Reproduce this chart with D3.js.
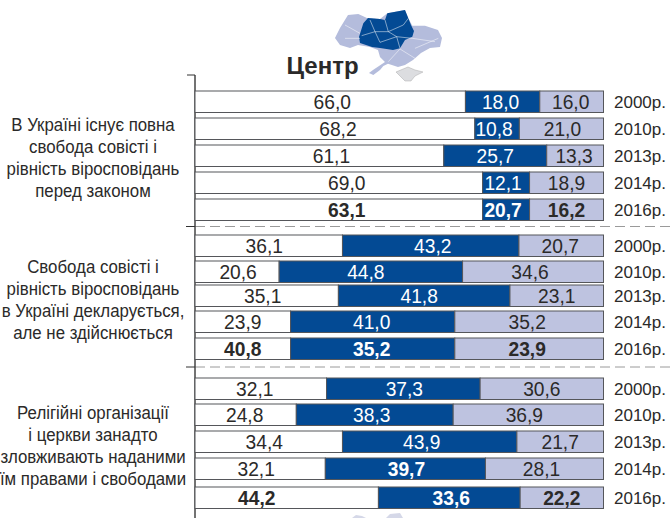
<!DOCTYPE html>
<html lang="uk"><head><meta charset="utf-8">
<script src="https://cdn.jsdelivr.net/npm/d3@7/dist/d3.min.js"></script>
<style>html,body{margin:0;padding:0;background:#fff}svg{display:block}</style></head>
<body><svg id="c" width="671" height="518"></svg>
<script>
const years = ["2000р.","2010р.","2013р.","2014р.","2016р."];
const questions = [
 ["В Україні існує повна","свобода совісті і","рівність віросповідань","перед законом"],
 ["Свобода совісті і","рівність віросповідань","в Україні декларується,","але не здійснюється"],
 ["Релігійні організації","і церкви занадто","зловживають наданими","їм правами і свободами"]
];
const labelsQ1 = [["66,0","18,0","16,0"],["68,2","10,8","21,0"],["61,1","25,7","13,3"],["69,0","12,1","18,9"],["63,1","20,7","16,2"]];
const labelsQ2 = [["36,1","43,2","20,7"],["20,6","44,8","34,6"],["35,1","41,8","23,1"],["23,9","41,0","35,2"],["40,8","35,2","23,9"]];
const labelsQ3 = [["32,1","37,3","30,6"],["24,8","38,3","36,9"],["34,4","43,9","21,7"],["32,1","39,7","28,1"],["44,2","33,6","22,2"]];
// Drawn bar lengths (they differ from the printed labels in some rows)
const drawnQ1 = [[66.2,18.2,15.6],[68.5,10.9,20.6],[60.9,25.2,13.9],[70.4,11.5,18.1],[70.4,11.5,18.1]];
const drawnQ2 = [[36.1,43.2,20.7],[20.6,44.9,34.5],[35.1,42.0,22.9],[23.4,40.2,36.4],[23.4,40.2,36.4]];
const drawnQ3 = [[32.2,37.6,30.2],[24.8,38.4,36.8],[36.1,42.7,21.2],[31.9,39.2,28.9],[44.9,34.7,20.4]];
const boldCells = [[[4,0],[4,1],[4,2]],[[4,0],[4,1],[4,2]],[[3,1],[4,0],[4,1],[4,2]]];
const segmentFill = ["#ffffff","#034a94","#bec3e0"];
const segmentText = ["#2b2a29","#ffffff","#2b2a29"];

const svg = d3.select("#c");
const x = d3.scaleLinear().domain([0,100]).range([195,603.5]);
const rowTops = [[91,118,145,172,199],[235,261,285,311,338],[378,404,431,458,487]];
const rowH = 21.5;
const qBase = [130.5,273,419];
// horizontal label offsets from the segment centre, in px
const labelShift = [
 [[2,-2,-1],[3,-3,1],[12,0,-1],[8,-3,0],[8,-3,0]],
 [[-4.5,2,-1],[1,-5,-3],[-4,-5,0],[0,-1,-2],[0,-1,-2]],
 [[-6,1,0],[-1,-3,-4],[-4.5,-8,0],[-4,1,-3],[-30,2,0]]
];

// map (decorative)
const mapG = svg.append("g").attr("transform","translate(325,5) scale(0.3333)");
const line = d3.line().curve(d3.curveLinearClosed);
const outline = [[30,99],[45,69],[69,30],[100,27],[126,39],[165,42],[187,25],[240,15],[250,40],[262,62],[300,62],[339,75],[351,99],[345,126],[315,129],[288,144],[264,165],[240,180],[219,186],[189,176],[175,183],[165,195],[145,210],[132,204],[144,195],[180,171],[165,156],[159,135],[135,126],[99,120],[75,129],[45,120]];
const center = [[102,96],[115,55],[129,39],[165,42],[180,45],[187,25],[240,15],[250,40],[258,60],[267,78],[262,95],[240,105],[225,130],[204,135],[165,129],[141,126],[105,114]];
const crimea = [[213,201],[249,186],[270,195],[294,201],[270,213],[258,228],[240,228],[225,213]];
mapG.append("path").attr("d",line(outline)).attr("fill","#b4bcdc");
mapG.append("path").attr("d",line(crimea)).attr("fill","#dcdde0").attr("stroke","#aaa").attr("stroke-width",1.5);
mapG.append("path").attr("d",line(center)).attr("fill","#034a94");
const borders = [[[135,45],[150,80],[110,92]],[[150,80],[165,112]],[[180,45],[190,80],[150,80]],[[190,80],[215,95],[225,130]],[[215,95],[262,100]],[[190,80],[235,60],[250,40]],[[165,112],[215,95]],[[60,60],[105,85]],[[60,100],[105,100]],[[262,100],[330,110]],[[270,130],[340,100]],[[225,132],[190,170]],[[225,132],[270,160]]];
borders.forEach(b=>mapG.append("path").attr("d",d3.line()(b)).attr("fill","none").attr("stroke","#fff").attr("stroke-width",2).attr("opacity",.75));

svg.append("text").attr("x",286.5).attr("y",74).attr("font-family","Liberation Sans").attr("font-weight",700).attr("font-size",24).attr("fill","#2b2a29").text("Центр");

// dashed separators
[226.5,367].forEach(y=>svg.append("line").attr("x1",195).attr("x2",671).attr("y1",y).attr("y2",y).attr("stroke","#9a9a9a").attr("stroke-width",1).attr("stroke-dasharray","10 5"));

// axis
svg.append("line").attr("x1",195).attr("x2",195).attr("y1",75).attr("y2",518).attr("stroke","#444").attr("stroke-width",1.5);
[[75,187],[226.5,186],[367,186]].forEach(([y,a])=>svg.append("line").attr("x1",a).attr("x2",195).attr("y1",y).attr("y2",y).attr("stroke","#333").attr("stroke-width",1));

[[labelsQ1,drawnQ1],[labelsQ2,drawnQ2],[labelsQ3,drawnQ3]].forEach(([labels,drawn],q)=>{
  const g = svg.append("g");
  years.forEach((yr,r)=>{
    const top = rowTops[q][r];
    let acc = 0;
    drawn[r].forEach((v,s)=>{
      const x0 = x(acc), x1 = x(acc+v); acc += v;
      g.append("rect").attr("x",x0).attr("y",top).attr("width",x1-x0).attr("height",rowH)
        .attr("fill",segmentFill[s]).attr("stroke","#55565a").attr("stroke-width",1);
      const bold = boldCells[q].some(([a,b])=>a===r&&b===s);
      g.append("text").attr("transform",`translate(${(x0+x1)/2+labelShift[q][r][s]},${top+18}) scale(0.96,1)`).attr("text-anchor","middle")
        .attr("font-family","Liberation Sans").attr("font-size",20).attr("font-weight",bold?700:400)
        .attr("fill",segmentText[s]).text(labels[r][s]);
    });
    g.append("text").attr("x",614).attr("y",top+17).attr("font-family","Liberation Sans").attr("font-size",17).attr("fill","#2b2a29").text(yr);
  });
  questions[q].forEach((t,i)=>{
    g.append("text").attr("transform",`translate(93,${qBase[q]+i*22}) scale(0.91,1)`).attr("text-anchor","middle")
     .attr("font-family","Liberation Sans").attr("font-size",18.5).attr("fill","#2b2a29").text(t);
  });
});
// map remains at bottom edge
svg.append("path").attr("d","M352 518L356 515L362 516L366 518Z M386 518L390 514L400 513L403 518Z").attr("fill","#d5d8e8");
</script></body></html>
